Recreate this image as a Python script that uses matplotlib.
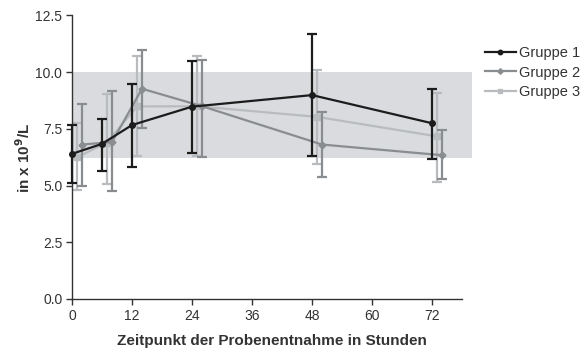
import matplotlib.pyplot as plt

plt.rcParams['font.family'] = ['Liberation Sans', 'DejaVu Sans']

# Gruppe 1
t1 = [0, 6, 12, 24, 48, 72]
g1 = [6.40, 6.84, 7.67, 8.48, 8.99, 7.75]
g1_lo = [5.12, 5.66, 5.82, 6.43, 6.29, 6.19]
g1_hi = [7.65, 7.94, 9.46, 10.50, 11.70, 9.27]

# Gruppe 2
t2 = [2, 8, 14, 26, 50, 74]
g2 = [6.81, 6.92, 9.27, 8.50, 6.81, 6.34]
g2_lo = [4.97, 4.74, 7.54, 6.28, 5.36, 5.27]
g2_hi = [8.61, 9.15, 11.00, 10.52, 8.23, 7.44]

# Gruppe 3
t3 = [1, 7, 13, 25, 49, 73]
g3 = [6.25, 6.90, 8.49, 8.50, 8.03, 7.17]
g3_lo = [4.80, 5.09, 6.31, 6.29, 5.93, 5.16]
g3_hi = [7.78, 9.02, 10.70, 10.71, 10.08, 9.10]

band = (6.2, 10.0)

fig = plt.figure(figsize=(5.87, 3.49), dpi=100)
ax = fig.add_axes([0.1227, 0.1433, 0.6814, 0.8123])

ax.axhspan(band[0], band[1], color='#d9dbde', zorder=0, lw=0)

def draw(t, y, lo, hi, c, m, ms, label, z):
    err = [[v - l for v, l in zip(y, lo)], [h - v for v, h in zip(y, hi)]]
    ax.errorbar(t, y, yerr=err, fmt='none', ecolor=c, elinewidth=1.6,
                capsize=3.5, capthick=1.6, zorder=z, clip_on=False)
    ln, = ax.plot(t, y, color=c, marker=m, ms=ms, lw=1.6, label=label,
                  zorder=z, clip_on=False)
    return ln

h3 = draw(t3, g3, g3_lo, g3_hi, '#b9bcbf', 's', 4, 'Gruppe 3', 2)
h2 = draw(t2, g2, g2_lo, g2_hi, '#8a8d90', 'D', 3.5, 'Gruppe 2', 3)
h1 = draw(t1, g1, g1_lo, g1_hi, '#1c1c1c', 'o', 4, 'Gruppe 1', 4)

ax.set_xlim(0, 80)
ax.set_ylim(0, 12.5)
ax.set_xticks([0, 12, 24, 36, 48, 60, 72])
ax.set_yticks([0, 2.5, 5, 7.5, 10, 12.5])
ax.set_yticklabels(['0.0', '2.5', '5.0', '7.5', '10.0', '12.5'])
ax.spines['top'].set_visible(False)
ax.spines['right'].set_visible(False)
ax.spines['bottom'].set_bounds(0, 78)
for s in ['left', 'bottom']:
    ax.spines[s].set_color('#333333')
    ax.spines[s].set_linewidth(1.0)
ax.tick_params(direction='out', length=4, width=1, colors='#333333',
               labelsize=10, labelcolor='#333333', pad=3)

ax.set_xlabel('Zeitpunkt der Probenentnahme in Stunden', fontsize=11,
              fontweight='bold', color='#333333', labelpad=8)
ax.set_ylabel('in x 10$^{\\mathbf{9}}$/L', fontsize=11, fontweight='bold',
              color='#333333', labelpad=2)

leg = ax.legend([h1, h2, h3], ['Gruppe 1', 'Gruppe 2', 'Gruppe 3'],
                loc='upper left', bbox_to_anchor=(1.0, 0.937), frameon=False,
                fontsize=10.5, handlelength=2.1, labelspacing=0.35,
                handletextpad=0.25, borderaxespad=0.5, markerscale=0.8)
for t in leg.get_texts():
    t.set_color('#333333')

fig.savefig('out.png', dpi=100)
